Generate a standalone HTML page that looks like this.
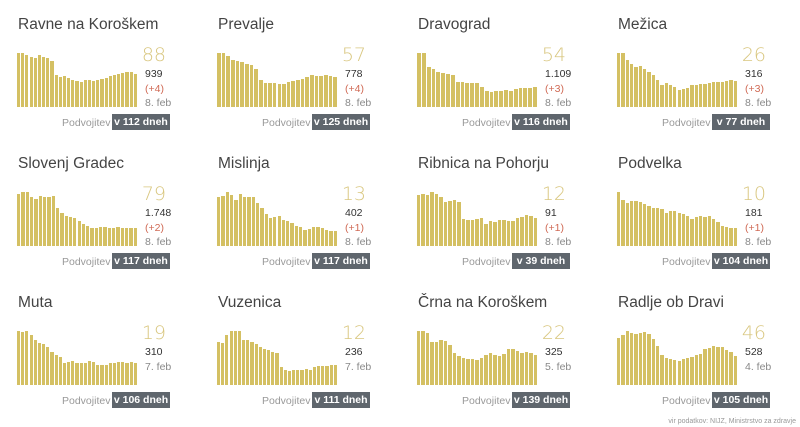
<!DOCTYPE html>
<html><head><meta charset="utf-8"><style>
body{margin:0;width:800px;height:427px;background:#fff;font-family:"Liberation Sans",sans-serif;position:relative;overflow:hidden}
.c{position:absolute;width:200px;height:139px}
.t{position:absolute;left:18px;top:16px;font-size:15.5px;color:#444}
.ch{position:absolute;left:17px;top:52px;width:121px;height:55px}
.b{position:absolute;bottom:0;width:2.6px;background:#d4c063}
.n{position:absolute;right:34px;top:44px;font-size:19px;color:#d9c780;font-family:"DejaVu Sans",sans-serif;font-weight:300}
.s{position:absolute;left:145px;font-size:10.5px;color:#333}
.d{color:#d06a55}.f{color:#888}
.p{position:absolute;left:62px;top:117px;font-size:10.5px;color:#999}
.bd{position:absolute;left:112px;top:114px;width:58px;height:16px;background:#5f666d;color:#fff;font-size:10.5px;font-weight:bold;text-align:center;line-height:16px}
.src{position:absolute;right:4px;top:418px;font-size:7px;color:#999}
</style></head><body>
<div id="w"></div>
<div class="src">vir podatkov: NIJZ, Ministrstvo za zdravje</div>
<script>
var D=[
["Ravne na Koroškem","88","939","(+4)","8. feb","v 112 dneh",[1,1,.96,.92,.9,.96,.93,.9,.85,.6,.56,.57,.53,.51,.49,.47,.5,.51,.48,.51,.52,.54,.57,.6,.61,.63,.64,.65,.62]],
["Prevalje","57","778","(+4)","8. feb","v 125 dneh",[1,1,.95,.88,.86,.83,.8,.77,.7,.5,.44,.45,.45,.43,.42,.46,.49,.51,.52,.55,.6,.58,.58,.6,.58,.55]],
["Dravograd","54","1.109","(+3)","8. feb","v 116 dneh",[1,1,.75,.7,.64,.63,.62,.6,.47,.46,.45,.44,.45,.38,.3,.28,.29,.3,.32,.3,.34,.35,.35,.35,.37]],
["Mežica","26","316","(+3)","8. feb","v 77 dneh",[1,1,.88,.8,.75,.76,.7,.64,.6,.5,.4,.44,.4,.38,.32,.33,.36,.4,.4,.42,.43,.45,.47,.46,.47,.48,.5,.49]],
["Slovenj Gradec","79","1.748","(+2)","8. feb","v 117 dneh",[.96,1,1,.9,.88,.93,.9,.9,.92,.7,.62,.55,.54,.52,.46,.4,.37,.33,.33,.35,.36,.34,.34,.35,.33,.33,.34,.33]],
["Mislinja","13","402","(+1)","8. feb","v 117 dneh",[.9,.92,1,.95,.85,.97,.9,.9,.9,.8,.7,.6,.52,.53,.55,.48,.46,.42,.38,.35,.3,.32,.36,.35,.34,.3,.28,.27]],
["Ribnica na Pohorju","12","91","(+1)","8. feb","v 39 dneh",[.94,.97,.95,1,.97,.9,.82,.84,.85,.82,.5,.48,.48,.5,.52,.4,.47,.44,.49,.49,.47,.47,.52,.54,.58,.56,.52]],
["Podvelka","10","181","(+1)","8. feb","v 104 dneh",[1,.85,.8,.84,.84,.82,.78,.75,.7,.7,.68,.62,.64,.64,.62,.6,.56,.5,.53,.56,.54,.55,.5,.45,.38,.36,.34,.34]],
["Muta","19","310","7. feb","","v 106 dneh",[1,.98,1,.92,.84,.78,.76,.7,.62,.55,.52,.4,.43,.45,.4,.4,.4,.45,.42,.38,.38,.38,.4,.4,.42,.42,.4,.42,.4]],
["Vuzenica","12","236","7. feb","","v 111 dneh",[.8,.77,.93,1,1,1,.84,.84,.8,.76,.7,.67,.65,.62,.6,.33,.27,.26,.28,.28,.28,.3,.28,.34,.35,.35,.35,.38,.37]],
["Črna na Koroškem","22","325","5. feb","","v 139 dneh",[1,1,.97,.8,.8,.83,.82,.74,.6,.53,.5,.48,.48,.47,.5,.55,.6,.55,.53,.58,.67,.66,.63,.6,.62,.6,.55]],
["Radlje ob Dravi","46","528","4. feb","","v 105 dneh",[.87,.93,1,.96,.95,.97,.98,.94,.85,.72,.55,.5,.49,.47,.44,.48,.5,.52,.56,.57,.66,.68,.72,.71,.7,.64,.62,.53]]
];
var h='';
D.forEach(function(d,i){
 var x=(i%4)*200,y=Math.floor(i/4)*139;
 var bars='',n=d[6].length,p=121/n;
 d[6].forEach(function(v,j){bars+='<div class="b" style="left:'+(j*p).toFixed(2)+'px;height:'+(v*54).toFixed(1)+'px;width:'+(p-1).toFixed(2)+'px"></div>';});
 var lines;
 if(d[4]) lines='<div class="s" style="top:68px">'+d[2]+'</div><div class="s d" style="top:83px">'+d[3]+'</div><div class="s f" style="top:97px">'+d[4]+'</div>';
 else lines='<div class="s" style="top:68px">'+d[2]+'</div><div class="s f" style="top:83px">'+d[3]+'</div>';
 h+='<div class="c" style="left:'+x+'px;top:'+y+'px"><div class="t">'+d[0]+'</div><div class="ch">'+bars+'</div><div class="n">'+d[1]+'</div>'+lines+'<div class="p">Podvojitev</div><div class="bd">'+d[5]+'</div></div>';
});
document.getElementById('w').innerHTML=h;
</script>
</body></html>
